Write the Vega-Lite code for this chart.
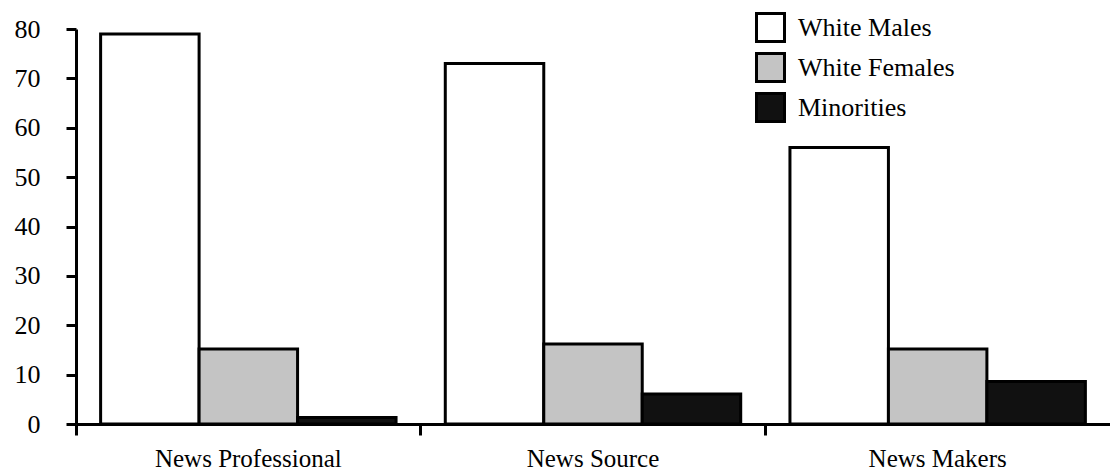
{
  "$schema": "https://vega.github.io/schema/vega-lite/v6.json",
  "autosize": "none",
  "padding": {"left": 76, "top": 29, "right": 0, "bottom": 51},
  "width": 1034,
  "height": 395,
  "background": "white",
  "config": {
    "view": {"stroke": null},
    "font": "Liberation Serif"
  },
  "data": {
    "values": [
      {"category": "News Professional", "group": "White Males", "value": 79},
      {"category": "News Professional", "group": "White Females", "value": 15.2},
      {"category": "News Professional", "group": "Minorities", "value": 1.3},
      {"category": "News Source", "group": "White Males", "value": 73},
      {"category": "News Source", "group": "White Females", "value": 16.2},
      {"category": "News Source", "group": "Minorities", "value": 6.1},
      {"category": "News Makers", "group": "White Males", "value": 56},
      {"category": "News Makers", "group": "White Females", "value": 15.2},
      {"category": "News Makers", "group": "Minorities", "value": 8.6}
    ]
  },
  "mark": {"type": "bar", "stroke": "black", "strokeWidth": 3, "strokeJoin": "miter"},
  "encoding": {
    "x": {
      "field": "category",
      "type": "nominal",
      "sort": ["News Professional", "News Source", "News Makers"],
      "scale": {"paddingInner": 0, "paddingOuter": 0},
      "axis": {
        "title": null,
        "bandPosition": 0,
        "labelAngle": 0,
        "labelAlign": "center",
        "labelFont": "Liberation Serif",
        "labelFontSize": 25,
        "labelColor": "black",
        "labelPadding": 11,
        "labelLimit": 400,
        "labelOverlap": false,
        "labelFlush": false,
        "labelBound": false,
        "domainColor": "black",
        "domainWidth": 3,
        "tickColor": "black",
        "tickWidth": 3,
        "tickSize": 11
      }
    },
    "xOffset": {
      "field": "group",
      "type": "nominal",
      "sort": ["White Males", "White Females", "Minorities"],
      "scale": {"paddingInner": 0, "paddingOuter": 0.25}
    },
    "y": {
      "field": "value",
      "type": "quantitative",
      "scale": {"domain": [0, 80], "nice": false},
      "axis": {
        "title": null,
        "values": [0, 10, 20, 30, 40, 50, 60, 70, 80],
        "grid": false,
        "labelFont": "Liberation Serif",
        "labelFontSize": 26,
        "labelColor": "black",
        "labelPadding": 26,
        "domainColor": "black",
        "domainWidth": 3,
        "tickColor": "black",
        "tickWidth": 3,
        "tickSize": 10
      }
    },
    "fill": {
      "field": "group",
      "type": "nominal",
      "scale": {
        "domain": ["White Males", "White Females", "Minorities"],
        "range": ["white", "#c4c4c4", "#111111"]
      },
      "legend": {
        "title": null,
        "orient": "none",
        "legendX": 679,
        "legendY": -17,
        "padding": 0,
        "symbolType": "square",
        "symbolSize": 784,
        "symbolStrokeColor": "black",
        "symbolStrokeWidth": 3,
        "symbolOpacity": 1,
        "rowPadding": -1,
        "labelOffset": 12,
        "labelFont": "Liberation Serif",
        "labelFontSize": 26,
        "labelColor": "black",
        "labelLimit": 400
      }
    }
  }
}
